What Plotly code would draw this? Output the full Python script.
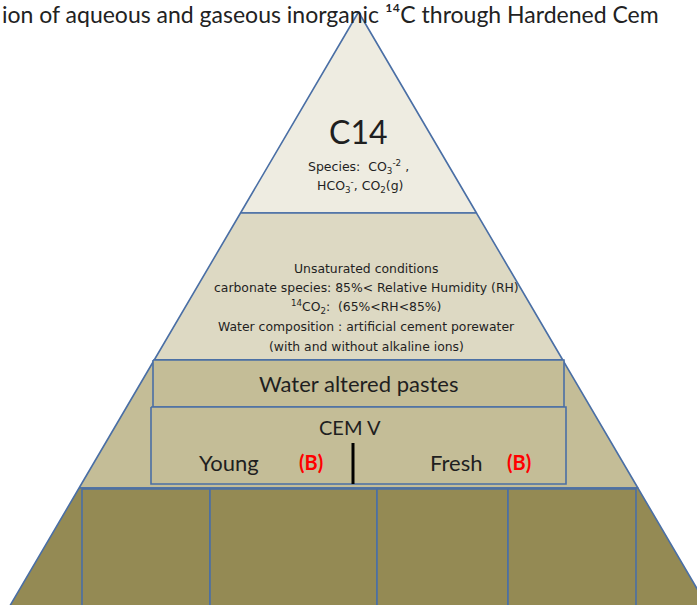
import plotly.graph_objects as go

# ---------------- data (labels) ----------------
title_text = "ion of aqueous and gaseous inorganic \u00b9\u2074C through Hardened Cem"
top_title = "C14"
top_lines = ["Species:  CO<sub>3</sub><sup>-2</sup> ,",
             "HCO<sub>3</sub><sup>-</sup>, CO<sub>2</sub>(g)"]
mid_lines = ["Unsaturated conditions",
             "carbonate species: 85%&lt; Relative Humidity (RH)",
             "<sup>14</sup>CO<sub>2</sub>:  (65%&lt;RH&lt;85%)",
             "Water composition : artificial cement porewater",
             "(with and without alkaline ions)"]
box1_label = "Water altered pastes"
box2_label = "CEM V"
sub_labels = ["Young", "Fresh"]
sub_tags = ["(B)", "(B)"]
tier_fills = ["#EEECE1", "#DDD9C3", "#C4BD97", "#948A54"]

# ---------------- geometry ----------------
W, H = 697, 605
apex_x, apex_y = 358.5, 12
slope = 0.587
tier_bounds = [apex_y, 213, 360, 488, 640]
edge = "#4A6FA5"


def half(y):
    return slope * (y - apex_y)


fig = go.Figure()

for i, fill in enumerate(tier_fills):
    y0, y1 = tier_bounds[i], tier_bounds[i + 1]
    xs = [apex_x - half(y0), apex_x + half(y0), apex_x + half(y1), apex_x - half(y1), apex_x - half(y0)]
    ys = [y0, y0, y1, y1, y0]
    fig.add_trace(go.Scatter(x=xs, y=ys, mode="lines", fill="toself", fillcolor=fill,
                             line=dict(color=edge, width=1.6), hoverinfo="skip", showlegend=False))


def rect(x0, y0, x1, y1, fill):
    fig.add_trace(go.Scatter(x=[x0, x1, x1, x0, x0], y=[y0, y0, y1, y1, y0], mode="lines",
                             fill="toself", fillcolor=fill, line=dict(color=edge, width=1.6),
                             hoverinfo="skip", showlegend=False))


rect(153, 360, 564, 407, "#C4BD97")
rect(151, 407, 566, 484, "#C4BD97")
bottom_cols = [82, 210, 377, 508, 636]
for a, b in zip(bottom_cols[:-1], bottom_cols[1:]):
    rect(a, 489, b, 640, "#948A54")

# black divider
fig.add_trace(go.Scatter(x=[353, 353], y=[443, 484], mode="lines",
                         line=dict(color="black", width=3), hoverinfo="skip", showlegend=False))

ann = []
F = "Lato, 'Open Sans', sans-serif"
S = "'DejaVu Sans', Verdana, sans-serif"


def txt(x, y, t, size, color="#1f1f1f", font=F, xanchor="center", ref="x"):
    ann.append(dict(x=x, y=y, xref=ref, yref="y", text=t, showarrow=False,
                    xanchor=xanchor, yanchor="middle",
                    font=dict(family=font, size=size, color=color)))


txt(0, 14, title_text, 23, color="#222222", xanchor="left", ref="paper")
txt(358, 131, top_title, 32)
txt(358, 167, top_lines[0], 12.5, font=S)
txt(360, 186, top_lines[1], 12.5, font=S)
for k, line in enumerate(mid_lines):
    txt(366, 268 + k * 19.6, line, 12.4, font=S)
txt(358, 383, box1_label, 22)
txt(350, 427, box2_label, 20)
txt(229, 462, sub_labels[0], 22)
txt(311, 462, "<b>" + sub_tags[0] + "</b>", 20, color="#FF0000")
txt(456, 462, sub_labels[1], 22)
txt(519, 462, "<b>" + sub_tags[1] + "</b>", 20, color="#FF0000")

fig.update_layout(
    width=W, height=H, margin=dict(l=0, r=0, t=0, b=0),
    paper_bgcolor="white", plot_bgcolor="white",
    xaxis=dict(range=[0, W], visible=False, fixedrange=True),
    yaxis=dict(range=[H, 0], visible=False, fixedrange=True),
    annotations=ann, showlegend=False,
)
fig.write_html("out.html", config={"displayModeBar": False},
               post_script="document.body.style.margin='0';")
